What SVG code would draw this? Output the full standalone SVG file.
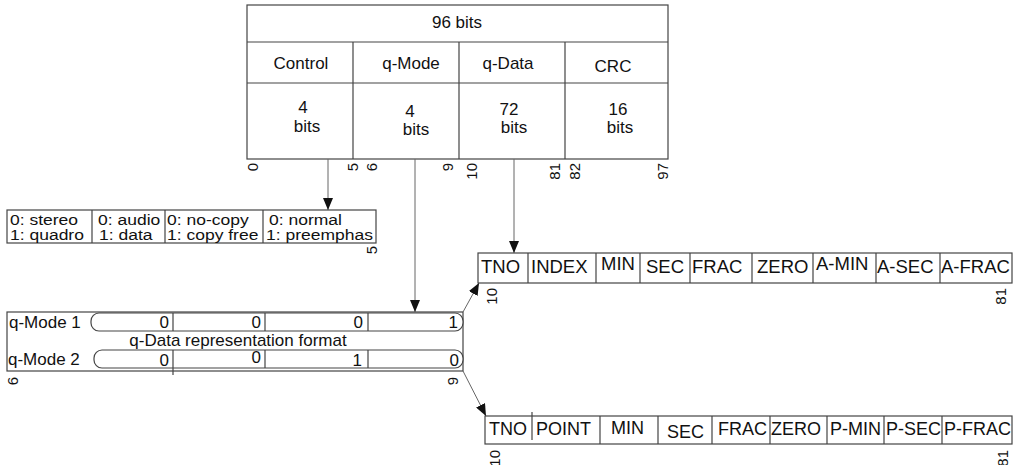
<svg xmlns="http://www.w3.org/2000/svg" width="1016" height="465" viewBox="0 0 1016 465">
<style>
text{font-family:"Liberation Sans",Arial,sans-serif;fill:#111}
.t{font-size:17px}
.s{font-size:15.5px}
.c{text-anchor:middle}
.e{text-anchor:end}
.r{font-size:18.5px}
.r2{font-size:18px}
.n{font-size:15px;text-anchor:end}
.b{fill:#fff;stroke:#444;stroke-width:1.2}
.l{stroke:#444;stroke-width:1.2;fill:none}
.cn{stroke:#666;stroke-width:1;fill:none}
</style>
<defs>
<marker id="ah" markerUnits="userSpaceOnUse" markerWidth="12" markerHeight="10" refX="12" refY="5" orient="auto">
<path d="M0,0 L12,5 L0,10 z" fill="#111"/>
</marker>
</defs>
<rect width="1016" height="465" fill="#fff"/>

<g id="subcode-frame">
<rect class="b" x="247" y="5" width="421" height="154"/>
<line class="l" x1="247" y1="42" x2="668" y2="42"/>
<line class="l" x1="247" y1="83" x2="668" y2="83"/>
<line class="l" x1="353" y1="42" x2="353" y2="159"/>
<line class="l" x1="459" y1="42" x2="459" y2="159"/>
<line class="l" x1="565" y1="42" x2="565" y2="159"/>
<text class="t c" x="457" y="28">96 bits</text>
<text class="t c" x="301" y="69">Control</text>
<text class="t c" x="411" y="69">q-Mode</text>
<text class="t c" x="508" y="69">q-Data</text>
<text class="t c" x="613" y="72">CRC</text>
<text class="t c" x="303" y="113">4</text>
<text class="t c" x="307" y="132">bits</text>
<text class="t c" x="410" y="117">4</text>
<text class="t c" x="416" y="135">bits</text>
<text class="t c" x="509" y="115">72</text>
<text class="t c" x="514" y="133">bits</text>
<text class="t c" x="618" y="115">16</text>
<text class="t c" x="620" y="133">bits</text>
<text class="n" transform="translate(258,163) rotate(-90)">0</text>
<text class="n" transform="translate(358,163) rotate(-90)">5</text>
<text class="n" transform="translate(377,163) rotate(-90)">6</text>
<text class="n" transform="translate(453,163) rotate(-90)">9</text>
<text class="n" transform="translate(477,163) rotate(-90)">10</text>
<text class="n" transform="translate(560,163) rotate(-90)">81</text>
<text class="n" transform="translate(580,163) rotate(-90)">82</text>
<text class="n" transform="translate(668,163) rotate(-90)">97</text>
</g>

<g id="control-box">
<rect class="b" x="7" y="210" width="369" height="33"/>
<line class="l" x1="92" y1="210" x2="92" y2="243"/>
<line class="l" x1="165" y1="210" x2="165" y2="243"/>
<line class="l" x1="263" y1="210" x2="263" y2="243"/>
<text class="s" transform="translate(10,225) scale(1.13,1)">0: stereo</text>
<text class="s" transform="translate(10,240) scale(1.13,1)">1: quadro</text>
<text class="s" transform="translate(98,225) scale(1.13,1)">0: audio</text>
<text class="s" transform="translate(99,240) scale(1.13,1)">1: data</text>
<text class="s" transform="translate(167,225) scale(1.13,1)">0: no-copy</text>
<text class="s" transform="translate(167,240) scale(1.13,1)">1: copy free</text>
<text class="s" transform="translate(269,225) scale(1.13,1)">0: normal</text>
<text class="s" transform="translate(266,240) scale(1.13,1)">1: preemphas</text>
<text class="n" transform="translate(377,246) rotate(-90)">5</text>
</g>

<g id="qmode-box">
<rect class="b" x="7" y="312" width="456" height="59"/>
<rect class="b" x="91" y="313" width="372" height="18" rx="8"/>
<rect class="b" x="94" y="350" width="369" height="18" rx="8"/>
<line class="l" x1="173" y1="313" x2="173" y2="331"/>
<line class="l" x1="265" y1="313" x2="265" y2="331"/>
<line class="l" x1="368" y1="313" x2="368" y2="331"/>
<line class="l" x1="173" y1="350" x2="173" y2="375"/>
<line class="l" x1="265" y1="350" x2="265" y2="368"/>
<line class="l" x1="368" y1="350" x2="368" y2="368"/>
<text class="t" x="9" y="328">q-Mode 1</text>
<text class="t" x="8" y="365">q-Mode 2</text>
<text class="t c" x="238" y="346">q-Data representation format</text>
<text class="t e" x="169" y="328">0</text>
<text class="t e" x="261" y="328">0</text>
<text class="t e" x="363" y="328">0</text>
<text class="t e" x="458" y="328">1</text>
<text class="t e" x="169" y="366">0</text>
<text class="t e" x="261" y="363">0</text>
<text class="t e" x="362" y="366">1</text>
<text class="t e" x="459" y="366">0</text>
<text class="n" transform="translate(18,377) rotate(-90)">6</text>
<text class="n" transform="translate(458,377) rotate(-90)">9</text>
</g>

<g id="qdata-mode1">
<rect class="b" x="478" y="253" width="534" height="30"/>
<line class="l" x1="528" y1="253" x2="528" y2="283"/>
<line class="l" x1="596" y1="253" x2="596" y2="283"/>
<line class="l" x1="640" y1="253" x2="640" y2="283"/>
<line class="l" x1="690" y1="253" x2="690" y2="283"/>
<line class="l" x1="752" y1="253" x2="752" y2="283"/>
<line class="l" x1="813" y1="253" x2="813" y2="283"/>
<line class="l" x1="876" y1="253" x2="876" y2="283"/>
<line class="l" x1="940" y1="253" x2="940" y2="283"/>
<text class="r" x="481" y="273">TNO</text>
<text class="r" x="531" y="273">INDEX</text>
<text class="r" x="601" y="270">MIN</text>
<text class="r" x="646" y="273">SEC</text>
<text class="r" x="692" y="273">FRAC</text>
<text class="r" x="757" y="273">ZERO</text>
<text class="r" x="816" y="270">A-MIN</text>
<text class="r" x="877" y="273">A-SEC</text>
<text class="r" x="941" y="273">A-FRAC</text>
<text class="n" transform="translate(497,288) rotate(-90)">10</text>
<text class="n" transform="translate(1006,288) rotate(-90)">81</text>
</g>

<g id="qdata-mode2">
<rect class="b" x="485" y="416" width="527" height="28"/>
<line class="l" x1="532" y1="412" x2="532" y2="440"/>
<line class="l" x1="600" y1="416" x2="600" y2="444"/>
<line class="l" x1="658" y1="416" x2="658" y2="444"/>
<line class="l" x1="712" y1="416" x2="712" y2="444"/>
<line class="l" x1="770" y1="416" x2="770" y2="444"/>
<line class="l" x1="827" y1="416" x2="827" y2="444"/>
<line class="l" x1="884" y1="416" x2="884" y2="444"/>
<line class="l" x1="942" y1="416" x2="942" y2="444"/>
<text class="r2" x="489" y="435">TNO</text>
<text class="r2" x="536" y="435">POINT</text>
<text class="r2" x="611" y="434">MIN</text>
<text class="r2" x="667" y="438">SEC</text>
<text class="r2" x="718" y="435">FRAC</text>
<text class="r2" x="771" y="435">ZERO</text>
<text class="r2" x="830" y="435">P-MIN</text>
<text class="r2" x="886" y="435">P-SEC</text>
<text class="r2" x="944" y="435">P-FRAC</text>
<text class="n" transform="translate(500,450) rotate(-90)">10</text>
<text class="n" transform="translate(1008,450) rotate(-90)">81</text>
</g>

<g id="connectors">
<line class="cn" x1="328" y1="159" x2="328" y2="210" marker-end="url(#ah)"/>
<line class="cn" x1="415" y1="159" x2="415" y2="312" marker-end="url(#ah)"/>
<line class="cn" x1="514" y1="159" x2="514" y2="253" marker-end="url(#ah)"/>
<line class="cn" x1="463" y1="312" x2="479" y2="283" marker-end="url(#ah)"/>
<line class="cn" x1="463" y1="371" x2="486" y2="416" marker-end="url(#ah)"/>
</g>
</svg>
